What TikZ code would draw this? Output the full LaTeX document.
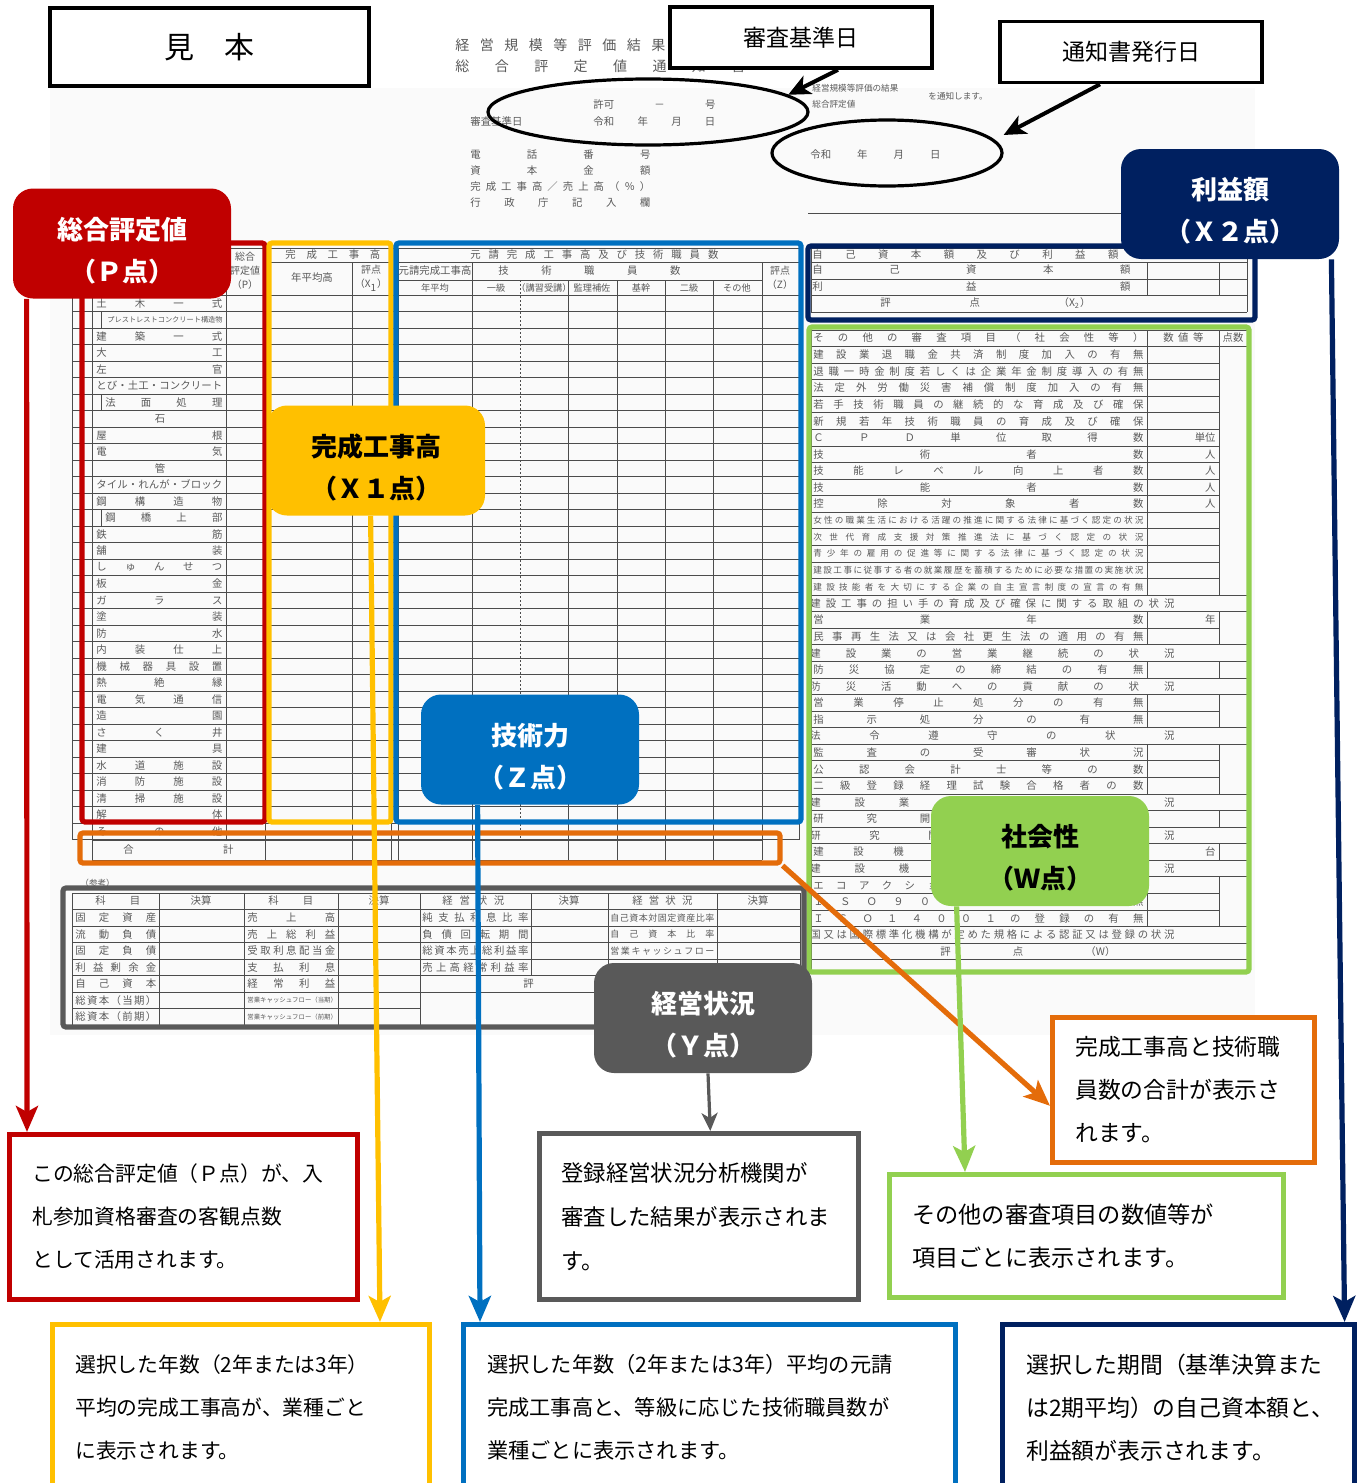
\documentclass[tikz,border=0pt]{standalone}
\usepackage{fontspec}
\setmainfont{Noto Sans CJK JP}
\usetikzlibrary{arrows.meta,shapes.geometric,fit}

\definecolor{pred}{HTML}{C00000}
\definecolor{xyel}{HTML}{FFC000}
\definecolor{zblue}{HTML}{0070C0}
\definecolor{wgreen}{HTML}{92D050}
\definecolor{xnavy}{HTML}{002060}
\definecolor{ygray}{HTML}{595959}
\definecolor{sumorg}{HTML}{E46C0A}
\definecolor{formtxt}{HTML}{5A5A5A}

% 1px of the sheet
\newlength\pxu
\setlength\pxu{0.5pt}
% spread the characters of a label over a width
\def\spreadloop#1#2\endspread{#1\ifx\relax#2\relax\else\hfil\spreadloop#2\endspread\fi}
\newcommand\spr[2]{\hbox to #1\pxu{\expandafter\spreadloop#2\endspread}}
\newcommand\sprx[2]{\hbox to #1\pxu{#2}}
\newcommand\calltop{\rule{0pt}{18pt}}

\tikzset{
  ft/.style={font=\fontsize{5.2}{6}\selectfont, text=formtxt, inner sep=0pt, anchor=west},
  fts/.style={ft, font=\fontsize{4.3}{5}\selectfont},
  grid/.style={draw=black!70, line width=0.45pt},
  hl/.style={draw=#1, line width=2.6pt, rounded corners=1.5pt, inner sep=0pt},
  callout/.style={fill=#1, rounded corners=10pt, minimum width=109pt, minimum height=55pt,
    align=center, font=\fontsize{13}{21}\selectfont\bfseries, inner sep=0pt},
  tbox/.style={draw=#1, line width=2.3pt, fill=white, anchor=north west, align=left, inner ysep=0pt},
  con/.style={draw=#1, line width=2.6pt, -{Stealth[length=13pt,width=11pt,inset=3pt]}},
  datebox/.style={draw, line width=1.8pt, fill=white, font=\fontsize{11.5}{14}\selectfont,
    inner sep=0pt, minimum width=131pt, minimum height=30.5pt},
  datearrow/.style={line width=2pt, -{Stealth[length=11pt,width=10pt,inset=3pt]}},
}

\begin{document}
\begin{tikzpicture}[x=0.5pt,y=-0.5pt]
\useasboundingbox (0,0) rectangle (1359,1483);
\clip (0,0) rectangle (1359,1483);

% scanned sheet
\fill[black!2] (50,88) rectangle (1255,1035);

% heading of the sheet
\node[ft, font=\fontsize{7}{8}\selectfont] (ftitle1) at (455,45) {\spr{210}{経営規模等評価結果}};
\node[ft, font=\fontsize{7}{8}\selectfont] (ftitle2) at (455,66) {\spr{290}{総合評定値通知書}};
\node[ft] (fkyoka) at (593,105) {\sprx{122}{許可\hfil{}－\hfil{}号}};
\node[ft] (fkijun) at (470,122) {審査基準日};
\node[ft] (fkijund) at (593,122) {\sprx{122}{令和\hfil{}年\hfil{}月\hfil{}日}};
\node[ft] (ftel) at (470,155) {\spr{180}{電話番号}};
\node[ft] (fcap) at (470,171) {\spr{180}{資本金額}};
\node[ft] (fratio) at (470,187) {\spr{180}{完成工事高／売上高（％）}};
\node[ft] (fgyosei) at (470,203) {\spr{180}{行政庁記入欄}};
\node[fts] (fkekka) at (812,88) {経営規模等評価の結果};
\node[fts] (fsogo) at (812,104) {総合評定値};
\node[fts] (ftsuchi) at (928,96) {を通知します。};
\node[ft] (fhakko) at (810,155) {\sprx{130}{令和\hfil{}年\hfil{}月\hfil{}日}};
\draw[grid] (808,213) -- (1125,213);

% main table: P, X1, Z
\draw[grid] (72,248) -- (799,248);
\foreach \k in {0,...,33}
  \draw[grid] (72,{295+16.5*\k}) -- (799,{295+16.5*\k});
\foreach \x in {72,92,226,265,391,398,799}
  \draw[grid] (\x,248) -- (\x,839.5);
\foreach \x in {352,472,762}
  \draw[grid] (\x,262) -- (\x,839.5);
\foreach \x in {568,617,665,713}
  \draw[grid] (\x,280) -- (\x,839.5);
\draw[grid, dash pattern=on 1pt off 1pt] (520,280) -- (520,839.5);
\draw[grid] (265,262) -- (391,262) (398,262) -- (799,262) (398,280) -- (762,280);
\node[ft, anchor=center, align=center, font=\fontsize{5}{7}\selectfont] (phead) at (245,271) {総合\\評定値\\（P）};
\node[ft] (xhead) at (285,255) {\spr{95}{完成工事高}};
\node[ft, anchor=center] (xavg) at (312,278) {年平均高};
\node[ft, anchor=center, align=center, font=\fontsize{5}{7}\selectfont] (xpt) at (371,278) {評点\\（X\textsubscript{1}）};
\node[ft] (zhead) at (470,255) {\spr{248}{元請完成工事高及び技術職員数}};
\node[ft, anchor=center] (zamt) at (435,271) {元請完成工事高};
\node[ft] (zstaff) at (498,271) {\spr{182}{技術職員数}};
\foreach \x/\lab in {435/年平均, 496/一級, 544/（講習受講）, 592/監理補佐, 641/基幹, 689/二級, 737/その他}
  \node[ft, anchor=center, font=\fontsize{4.6}{5}\selectfont] (zsub\x) at (\x,288) {\lab};
\node[ft, anchor=center, align=center, font=\fontsize{5}{7}\selectfont] (zpt) at (780,278) {評点\\（Z）};

% kinds of work
\foreach \r/\lab in {0/土木一式, 2/建築一式, 3/大工, 4/左官, 5/とび・土工・コンクリート, 8/屋根, 9/電気,
    11/タイル・れんが・ブロック, 12/鋼構造物, 14/鉄筋, 15/舗装, 16/しゅんせつ, 17/板金, 18/ガラス,
    19/塗装, 20/防水, 21/内装仕上, 22/機械器具設置, 23/熱絶縁, 24/電気通信, 25/造園, 26/さく井,
    27/建具, 28/水道施設, 29/消防施設, 30/清掃施設, 31/解体, 32/その他}
  \node[ft] (ind\r) at (96,{295+16.5*\r+8.25}) {\spr{126}{\lab}};
\foreach \r/\lab in {6/法面処理, 13/鋼橋上部} {
  \draw[grid] (101,{295+16.5*\r}) -- (101,{295+16.5*(\r+1)});
  \node[ft] (ind\r) at (105,{295+16.5*\r+8.25}) {\spr{117}{\lab}};
}
\draw[grid] (101,311.5) -- (101,328);
\node[ft, font=\fontsize{3.6}{4}\selectfont] (ind1) at (107,319.75) {\spr{113}{プレストレストコンクリート構造物}};
\foreach \r/\lab in {7/石, 10/管}
  \node[ft, anchor=center] (ind\r) at (160,{295+16.5*\r+8.25}) {\lab};

% total row
\draw[grid] (92,840) -- (762,840) (92,860) -- (762,860);
\foreach \x in {92,265,352,391,398,472,568,617,665,713,762}
  \draw[grid] (\x,840) -- (\x,860);
\node[ft] (gokei) at (123,850) {\sprx{110}{合\hfil{}計}};

% X2 table
\foreach \y in {248,262,279,295,312}
  \draw[grid] (811,\y) -- (1247,\y);
\draw[grid] (811,248) -- (811,312) (1247,248) -- (1247,312)
  (1147,262) -- (1147,295) (1219,262) -- (1219,295);
\node[ft] (x2head) at (812,255) {\spr{306}{自己資本額及び利益額}};
\node[ft] (x2own) at (812,270) {\spr{318}{自己資本額}};
\node[ft] (x2prof) at (812,287) {\spr{318}{利益額}};
\node[ft] (x2pt) at (880,303) {\sprx{210}{評\hfil{}点\hfil{}（X\textsubscript{2}）}};

% W table
\foreach \k in {0,...,15,17,18,20,22,23,25,26,27,29,31,33,34,35} {
  \draw[grid] (811,{330+16.57*\k}) rectangle (1219,{330+16.57*(\k+1)});
  \draw[grid] (1147,{330+16.57*\k}) -- (1147,{330+16.57*(\k+1)});
}
\foreach \k in {16,19,21,24,28,30,32,36,37}
  \draw[grid] (811,{330+16.57*\k}) rectangle (1247,{330+16.57*(\k+1)});
\draw[grid] (1219,330) -- (1247,330) (1219,346.57) -- (1247,346.57) (1247,330) -- (1247,970)
  (811,960) -- (811,970);
\node[ft] (whead) at (813,338) {\spr{330}{その他の審査項目（社会性等）}};
\node[ft] (wnum) at (1163,338) {\spr{40}{数値等}};
\node[ft, anchor=center] (wpts) at (1233,338) {点数};
\foreach \k/\lab in {1/建設業退職金共済制度加入の有無, 2/退職一時金制度若しくは企業年金制度導入の有無,
    3/法定外労働災害補償制度加入の有無, 4/若手技術職員の継続的な育成及び確保,
    5/新規若年技術職員の育成及び確保, 6/ＣＰＤ単位取得数, 7/技術者数, 8/技能レベル向上者数,
    9/技能者数, 10/控除対象者数, 17/営業年数, 18/民事再生法又は会社更生法の適用の有無,
    20/防災協定の締結の有無, 22/営業停止処分の有無, 23/指示処分の有無, 25/監査の受審状況,
    26/公認会計士等の数, 27/二級登録経理試験合格者の数, 29/研究開発費の額, 31/建設機械の保有台数,
    33/エコアクション２１の認証の有無, 34/ＩＳＯ９００１の登録の有無, 35/ＩＳＯ１４００１の登録の有無}
  \node[ft] (w\k) at (813,{330+16.57*(\k+0.5)}) {\spr{330}{\lab}};
\foreach \k/\lab in {11/女性の職業生活における活躍の推進に関する法律に基づく認定の状況,
    12/次世代育成支援対策推進法に基づく認定の状況, 13/青少年の雇用の促進等に関する法律に基づく認定の状況,
    14/建設工事に従事する者の就業履歴を蓄積するために必要な措置の実施状況,
    15/建設技能者を大切にする企業の自主宣言制度の宣言の有無}
  \node[fts] (w\k) at (813,{330+16.57*(\k+0.5)}) {\spr{330}{\lab}};
\foreach \k/\lab in {16/建設工事の担い手の育成及び確保に関する取組の状況, 19/建設業の営業継続の状況,
    21/防災活動への貢献の状況, 24/法令遵守の状況, 28/建設業の経理の状況, 30/研究開発の状況,
    32/建設機械の保有状況, 36/国又は国際標準化機構が定めた規格による認証又は登録の状況}
  \node[ft] (w\k) at (810,{330+16.57*(\k+0.5)}) {\spr{364}{\lab}};
\foreach \k/\u in {6/単位, 7/人, 8/人, 9/人, 10/人, 17/年, 31/台}
  \node[ft, anchor=east] (wu\k) at (1216,{330+16.57*(\k+0.5)}) {\u};
\node[ft] (wpt) at (940,{330+16.57*37.5}) {\sprx{175}{評\hfil{}点\hfil{}（W）}};

% Y table
\node[fts] (sanko) at (80,883) {（参考）};
\foreach \k in {0,...,6,8}
  \draw[grid] (72,{893+16.5*\k}) -- (800,{893+16.5*\k});
\draw[grid] (72,1008.5) -- (420,1008.5);
\foreach \x in {72,159,244,338,420,800}
  \draw[grid] (\x,893) -- (\x,1025);
\foreach \x in {531,608,717}
  \draw[grid] (\x,893) -- (\x,975.5);
\foreach \x/\lab in {201/決算, 379/決算, 569/決算, 758/決算}
  \node[ft, anchor=center] (yd\x) at (\x,901) {\lab};
\node[ft] (yh1) at (95,901) {\sprx{45}{科\hfil{}目}};
\node[ft] (yh3) at (268,901) {\sprx{45}{科\hfil{}目}};
\node[ft] (yh5) at (442,901) {\spr{62}{経営状況}};
\node[ft] (yh7) at (632,901) {\spr{60}{経営状況}};
\foreach \k/\lab in {1/固定資産, 2/流動負債, 3/固定負債, 4/利益剰余金, 5/自己資本, 6/総資本（当期）, 7/総資本（前期）}
  \node[ft] (ya\k) at (75,{893+16.5*(\k+0.5)}) {\spr{81}{\lab}};
\foreach \k/\lab in {1/売上高, 2/売上総利益, 3/受取利息配当金, 4/支払利息, 5/経常利益}
  \node[ft] (yb\k) at (247,{893+16.5*(\k+0.5)}) {\spr{88}{\lab}};
\foreach \k/\lab in {6/営業キャッシュフロー（当期）, 7/営業キャッシュフロー（前期）}
  \node[ft, font=\fontsize{3.2}{4}\selectfont] (yb\k) at (247,{893+16.5*(\k+0.5)}) {\spr{88}{\lab}};
\foreach \k/\lab in {1/純支払利息比率, 2/負債回転期間, 3/総資本売上総利益率, 4/売上高経常利益率}
  \node[ft] (yc\k) at (422,{893+16.5*(\k+0.5)}) {\spr{106}{\lab}};
\foreach \k/\lab in {1/自己資本対固定資産比率, 2/自己資本比率, 3/営業キャッシュフロー}
  \node[ft, font=\fontsize{4.5}{5}\selectfont] (yd\k) at (610,{893+16.5*(\k+0.5)}) {\spr{104}{\lab}};
\node[ft] (ypt) at (523,{893+16.5*5.5}) {\sprx{170}{評\hfil{}点\hfil{}（Y）}};

% marked parts of the sheet
\node[hl=pred, fit={(82,243) (265,822)}] (pbox) {};
\node[hl=xyel, fit={(269,243) (391,822)}] (xbox) {};
\node[hl=zblue, fit={(396,243) (801,822)}] (zbox) {};
\node[hl=sumorg, fit={(80,833) (780,863)}] (obox) {};
\node[hl=xnavy, fit={(808,246) (1255,320)}] (x2box) {};
\node[hl=wgreen, fit={(809,327) (1249,972)}] (wbox) {};
\node[hl=ygray, fit={(63,888) (804,1027)}] (ybox) {};

% explanations
\node[tbox=pred, font=\fontsize{10.4}{21.5}\selectfont, text width=151pt, inner xsep=11.5pt, minimum height=82.5pt]
  (ptext) at (7,1132) {この総合評定値（Ｐ点）が、入\\札参加資格審査の客観点数\\として活用されます。};
\node[tbox=xyel, font=\fontsize{10.4}{21.5}\selectfont, text width=165.5pt, inner xsep=11.5pt, minimum height=83pt]
  (x1text) at (50,1322) {選択した年数（2年または3年）\\平均の完成工事高が、業種ごと\\に表示されます。};
\node[tbox=zblue, font=\fontsize{10.6}{21.5}\selectfont, text width=222pt, inner xsep=12pt, minimum height=83pt]
  (ztext) at (461,1322) {選択した年数（2年または3年）平均の元請\\完成工事高と、等級に応じた技術職員数が\\業種ごとに表示されます。};
\node[tbox=ygray, font=\fontsize{11.2}{22}\selectfont, text width=137.5pt, inner xsep=11pt, minimum height=83pt]
  (ytext) at (537,1131) {登録経営状況分析機関が\\審査した結果が表示されま\\す。};
\node[tbox=wgreen, font=\fontsize{11.6}{21.5}\selectfont, text width=174pt, inner xsep=11.5pt, minimum height=61.5pt]
  (wtext) at (887,1172) {その他の審査項目の数値等が\\項目ごとに表示されます。};
\node[tbox=sumorg, font=\fontsize{11.4}{21.5}\selectfont, text width=108pt, inner xsep=11.5pt, minimum height=72.5pt]
  (otext) at (1050,1015) {完成工事高と技術職\\員数の合計が表示さ\\れます。};
\node[tbox=xnavy, font=\fontsize{11.4}{21.5}\selectfont, text width=152pt, inner xsep=12pt, minimum height=83pt]
  (x2text) at (1000,1322) {選択した期間（基準決算また\\は2期平均）の自己資本額と、\\利益額が表示されます。};

% callouts
\node[callout=pred, text=white] (pcall) at (122,243.5) {\calltop 総合評定値\\（Ｐ点）};
\node[callout=xyel, text=black] (x1call) at (376,460.5) {\calltop 完成工事高\\（Ｘ１点）};
\node[callout=zblue, text=white] (zcall) at (530,749.5) {\calltop 技術力\\（Ｚ点）};
\node[callout=wgreen, text=black] (wcall) at (1040,851) {\calltop 社会性\\（Ｗ点）};
\node[callout=ygray, text=white] (ycall) at (703,1018) {\calltop 経営状況\\（Ｙ点）};
\node[callout=xnavy, text=white] (x2call) at (1230,204) {\calltop 利益額\\（Ｘ２点）};

% connectors
\draw[con=pred] ([xshift=7pt]pcall.south west) -- ([xshift=10pt]ptext.north west);
\draw[con=xyel] ([xshift=52pt]x1call.south west) -- ([xshift=165pt]x1text.north west);
\draw[con=zblue] ([xshift=28.5pt]zcall.south west) -- ([xshift=9.5pt]ztext.north west);
\draw[con=sumorg] (obox.south east) -- ([yshift=-8pt]otext.west);
\draw[con=wgreen] ([xshift=13pt]wcall.south west) -- ([xshift=39pt]wtext.north west);
\draw[con=xnavy] ([xshift=-4pt]x2call.south east) -- ([xshift=-6pt]x2text.north east);
\draw[draw=ygray, line width=1.6pt, -{Stealth[length=9pt,width=8pt,inset=2.5pt]}]
  ([xshift=2.5pt]ycall.south) -- ([xshift=5.75pt]ytext.north);

% sample mark and dates
\node[draw, line width=2.2pt, minimum width=159.5pt, minimum height=39pt, inner sep=0pt,
  font=\fontsize{15}{18}\selectfont] (mihon) at (209.5,47) {見　本};
\node[datebox] (sdate) at (801,37.5) {審査基準日};
\node[datebox] (ndate) at (1131,52) {通知書発行日};
\node[draw, ellipse, line width=1.6pt, minimum width=160pt, minimum height=33pt, inner sep=0pt] (ell1) at (648,112) {};
\node[draw, ellipse, line width=1.6pt, minimum width=115pt, minimum height=33pt, inner sep=0pt] (ell2) at (887,153) {};
\draw[datearrow] ([xshift=18.5pt]sdate.south) -- (ell1.7);
\draw[datearrow] ([xshift=-15.5pt]ndate.south) -- ([yshift=9pt]ell2.east);
\end{tikzpicture}
\end{document}
